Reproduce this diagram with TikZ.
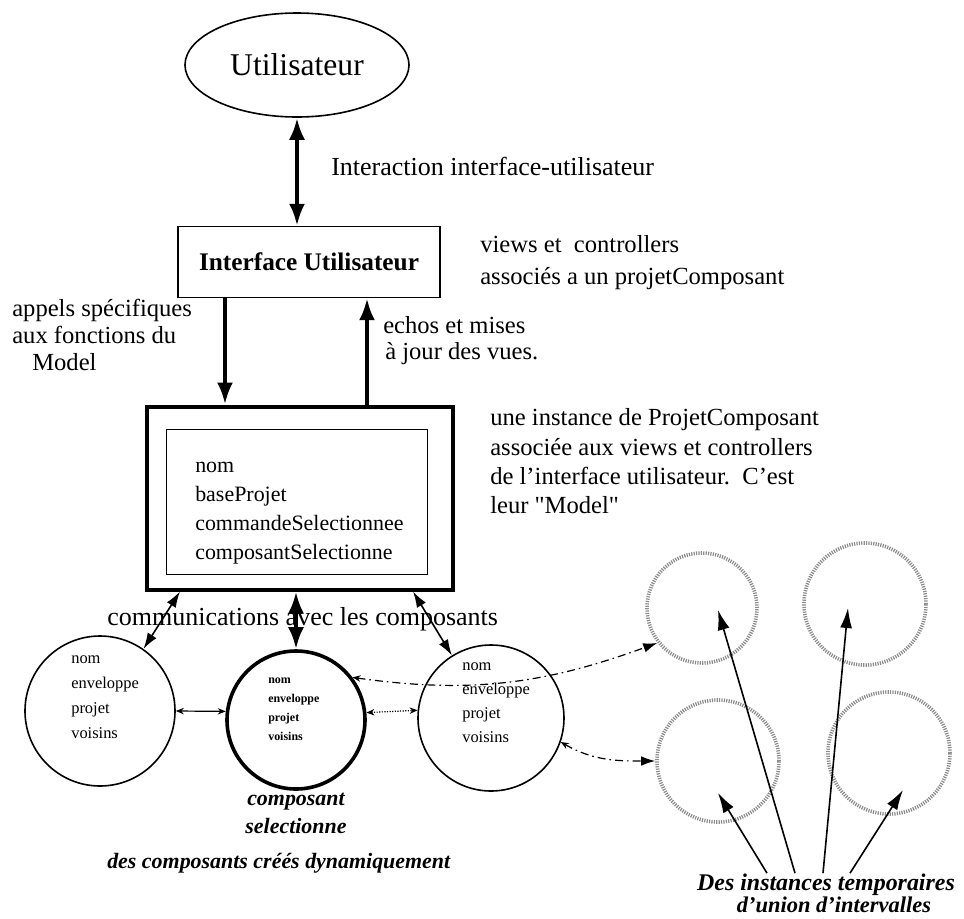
\documentclass[tikz,border=0pt]{standalone}
\usepackage{fontspec}
\setmainfont{Liberation Serif}[Ligatures=TeXOff]
\usepackage{tikz}
\usetikzlibrary{positioning}
\usetikzlibrary{shapes.geometric}
\usetikzlibrary{arrows.meta}

\begin{document}
\begin{tikzpicture}[x=0.25mm,y=-0.25mm,
        txt/.style={inner sep=0pt,font=\fontsize{17.5}{20}\selectfont},
        emph/.style={inner sep=0pt,font=\fontsize{15.6}{18}\selectfont\bfseries\itshape},
        bigarrow/.style={line width=1mm,-{Latex[length=5.5mm,width=4mm]}},
        twoway/.style={line width=1mm,{Latex[length=5.5mm,width=4mm]}-{Latex[length=5.5mm,width=4mm]}},
        thinway/.style={line width=0.4mm,{Latex[length=4mm,width=2.6mm]}-{Latex[length=4mm,width=2.6mm]}},
        tinyway/.style={line width=0.3mm,{Stealth[length=2mm,width=1.6mm]}-{Stealth[length=2mm,width=1.6mm]}},
        spawn/.style={line width=0.3mm,dash pattern=on 2mm off 1mm on 0.4mm off 1mm,
            {Stealth[length=2mm,width=1.6mm]}-{Latex[length=3.5mm,width=2.4mm]}},
        pointer/.style={line width=0.4mm,-{Latex[length=5mm,width=3mm]}},
        comp/.style={draw,circle,line width=0.4mm,inner sep=0pt},
        temp/.style={draw=black!45,circle,line width=0.9mm,inner sep=0pt,
            dash pattern=on 0.3mm off 0.3mm},
        cellt/.style={inner sep=0pt,font=\fontsize{11.7}{13}\selectfont},
        selt/.style={inner sep=0pt,font=\fontsize{8.5}{10}\selectfont\bfseries}]

    \useasboundingbox (0,0) rectangle (964,919);

    % utilisateur et interface
    \node[draw,ellipse,line width=0.4mm,inner sep=0pt,minimum width=56mm,minimum height=26mm,
        font=\fontsize{22.5}{26}\selectfont] (user) at (297,65) {Utilisateur};
    \node[draw,line width=0.35mm,minimum width=65.5mm,minimum height=17.75mm,
        font=\fontsize{18}{21}\selectfont\bfseries] (ui) at (309,262) {Interface Utilisateur};
    \draw[twoway] (user.south) -- (user.south |- ui.north);

    \node[txt,anchor=base west,font=\fontsize{18.5}{21}\selectfont] (inter) at (331,175) {Interaction interface-utilisateur};
    \node[txt,anchor=base west] (views) at (480,252) {views et\ \ controllers};
    \node[txt,anchor=base west] (assoc) at (480,284) {associés a un projetComposant};

    % le projetComposant
    \node[draw,line width=1mm,minimum width=76.5mm,minimum height=45.75mm] (model) at (300,498) {};
    \node[draw,line width=0.35mm,minimum width=65.25mm,minimum height=36.25mm] (inner) at (297,502) {};
    \foreach \f [count=\i] in {nom,baseProjet,commandeSelectionnee,composantSelectionne}
        \node[inner sep=0pt,anchor=base west,font=\fontsize{15.6}{18}\selectfont] (field\i) at (195,443+29*\i) {\f};

    \coordinate (callx) at (225,0);
    \coordinate (echox) at (367,0);
    \draw[bigarrow] (ui.south -| callx) -- (model.north -| callx);
    \draw[bigarrow] (model.north -| echox) -- (ui.south -| echox);

    \node[txt,anchor=base west] (call1) at (12,316) {appels spécifiques};
    \node[txt,anchor=base west] (call2) at (12,343) {aux fonctions du};
    \node[txt,anchor=base west] (call3) at (32,370) {Model};
    \node[txt,anchor=base west] (echo1) at (383,333) {echos et mises};
    \node[txt,anchor=base west] (echo2) at (385,359) {à jour des vues.};

    \node[txt,anchor=base west] (inst1) at (490,425) {une instance de ProjetComposant};
    \node[txt,anchor=base west] (inst2) at (490,455) {associée aux views et controllers};
    \node[txt,anchor=base west] (inst3) at (490,484) {de l’interface utilisateur.\ \ C’est};
    \node[txt,anchor=base west] (inst4) at (490,513) {leur "Model"};

    % les composants
    \node[comp,minimum size=37.5mm] (lc) at (100,711) {};
    \node[comp,line width=0.9mm,minimum size=34.5mm] (mc) at (296,720) {};
    \node[comp,minimum size=36.5mm] (rc) at (491,718) {};
    \foreach \w [count=\i] in {nom,enveloppe,projet,voisins} {
        \node[cellt,anchor=base west] (lw\i) at (71,638+25*\i) {\w};
        \node[selt,anchor=base west] (mw\i) at (268,664+19*\i) {\w};
        \node[cellt,anchor=base west] (rw\i) at (462,646+24*\i) {\w};
    }

    \node[txt,anchor=base west,font=\fontsize{18.5}{22}\selectfont] (comm) at (107,625)
        {communications avec les composants};

    \coordinate (lx) at (180,0);
    \coordinate (rx) at (413,0);
    \draw[thinway] (model.south -| lx) -- (lc.55);
    \draw[twoway] (model.south -| mc) -- (mc.north);
    \draw[thinway] (model.south -| rx) -- (rc.122);

    \draw[tinyway] (lc.east) -- (mc.173);
    \draw[tinyway,densely dotted] (mc.6) -- (rc.174);

    \node[emph,anchor=base] (sel1) at (296,805) {composant};
    \node[emph,anchor=base] (sel2) at (296,833) {selectionne};
    \node[emph,anchor=base west] (dyn) at (107,868) {des composants créés dynamiquement};

    % instances temporaires
    \node[temp,minimum size=27.5mm] (ia) at (702,608) {};
    \node[temp,minimum size=30.5mm] (ib) at (865,604) {};
    \node[temp,minimum size=30.5mm] (ic) at (718,761) {};
    \node[temp,minimum size=30.5mm] (id) at (889,753) {};

    \draw[spawn] (mc.37) to[out=-8,in=200] (ia.218);
    \draw[spawn] (rc.-19) to[out=-30,in=180] (ic.west);

    \node[emph,anchor=base,font=\fontsize{17}{20}\selectfont\bfseries\itshape] (tmp1) at (826,890) {Des instances temporaires};
    \node[emph,anchor=base,font=\fontsize{16}{20}\selectfont\bfseries\itshape] (tmp2) at (834,912) {d’union d’intervalles};

    \coordinate (tip1) at (718,793);
    \coordinate (tip2) at (718,610);
    \coordinate (tip3) at (848,608);
    \coordinate (tip4) at (903,790);
    \foreach \x [count=\i] in {767,795,823,850}
        \draw[pointer] (tmp1.north -| \x,0) -- (tip\i);
\end{tikzpicture}
\end{document}
